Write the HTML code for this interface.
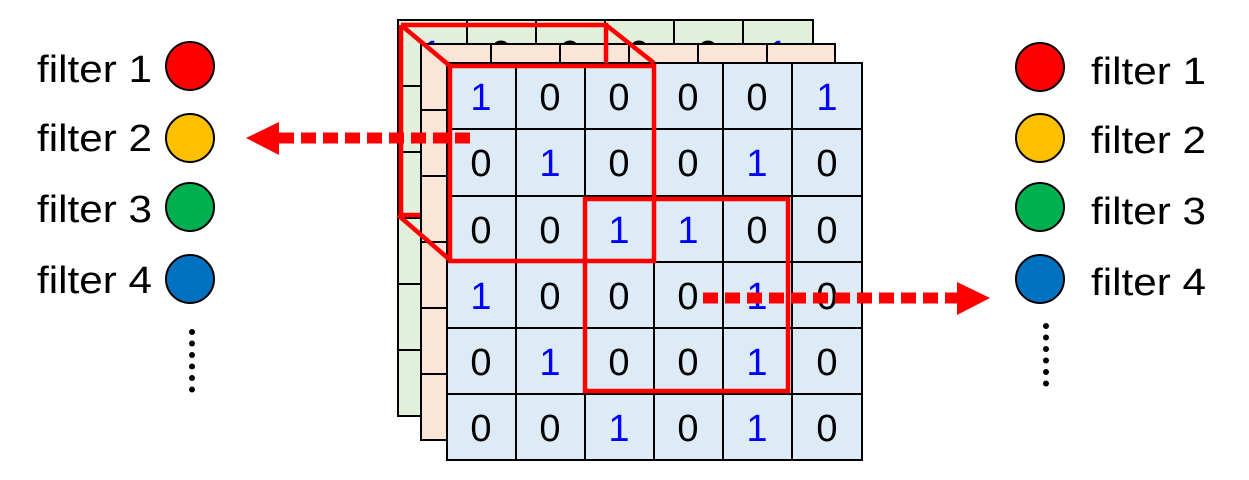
<!DOCTYPE html>
<html><head><meta charset="utf-8"><style>
html,body{margin:0;padding:0;background:#fff;}
svg{display:block;}
text{font-family:"Liberation Sans",sans-serif;}
</style></head><body>
<svg width="1249" height="480" viewBox="0 0 1249 480" xmlns="http://www.w3.org/2000/svg">
<!-- green grid -->
<g stroke="#000" stroke-width="2">
<rect x="398" y="20" width="415" height="396" fill="#e2efda"/>
<path d="M467 20V416M536 20V416M605 20V416M674 20V416M743 20V416M398 86H813M398 152H813M398 218H813M398 284H813M398 350H813" fill="none"/>
</g>
<g font-size="38" text-anchor="middle">
<text x="432" y="67" fill="#0000ff">1</text><text x="501" y="67">0</text><text x="570" y="67">0</text><text x="639" y="67">0</text><text x="708" y="67">0</text><text x="778" y="67" fill="#0000ff">1</text>
</g>
<!-- peach grid -->
<g stroke="#000" stroke-width="2">
<rect x="421" y="44" width="414" height="396" fill="#fbe5d6"/>
<path d="M491 44V440M560 44V440M629 44V440M698 44V440M767 44V440M421 110H835M421 176H835M421 242H835M421 308H835M421 374H835" fill="none"/>
</g>
<g font-size="38" text-anchor="middle">
<text x="456" y="91" fill="#0000ff">1</text><text x="525" y="91">0</text><text x="594" y="91">0</text><text x="663" y="91">0</text><text x="732" y="91">0</text><text x="801" y="91" fill="#0000ff">1</text>
<text x="456" y="223">0</text><text x="456" y="355">0</text><text x="456" y="421">0</text>
</g>
<!-- blue grid -->
<g stroke="#000" stroke-width="2">
<rect x="447" y="63" width="415" height="397" fill="#ddebf7"/>
<path d="M516 63V460M585 63V460M654 63V460M723 63V460M792 63V460M447 129H862M447 196H862M447 262H862M447 328H862M447 394H862" fill="none"/>
</g>
<g font-size="38" text-anchor="middle">
<text x="481" y="110" fill="#0000ff">1</text><text x="550" y="110">0</text><text x="619" y="110">0</text><text x="688" y="110">0</text><text x="757" y="110">0</text><text x="827" y="110" fill="#0000ff">1</text>
<text x="481" y="176">0</text><text x="550" y="176" fill="#0000ff">1</text><text x="619" y="176">0</text><text x="688" y="176">0</text><text x="757" y="176" fill="#0000ff">1</text><text x="827" y="176">0</text>
<text x="481" y="243">0</text><text x="550" y="243">0</text><text x="619" y="243" fill="#0000ff">1</text><text x="688" y="243" fill="#0000ff">1</text><text x="757" y="243">0</text><text x="827" y="243">0</text>
<text x="481" y="309" fill="#0000ff">1</text><text x="550" y="309">0</text><text x="619" y="309">0</text><text x="688" y="309">0</text><text x="757" y="309" fill="#0000ff">1</text><text x="827" y="309">0</text>
<text x="481" y="375">0</text><text x="550" y="375" fill="#0000ff">1</text><text x="619" y="375">0</text><text x="688" y="375">0</text><text x="757" y="375" fill="#0000ff">1</text><text x="827" y="375">0</text>
<text x="481" y="441">0</text><text x="550" y="441">0</text><text x="619" y="441" fill="#0000ff">1</text><text x="688" y="441">0</text><text x="757" y="441" fill="#0000ff">1</text><text x="827" y="441">0</text>
</g>
<!-- red cube -->
<g stroke="#ff0000" stroke-width="4.5" fill="none">
<path d="M401 25H606V63"/>
<path d="M401 25V215H420"/>
<path d="M401 25L450 66M606 25L654 63M398 215L450 260"/>
<rect x="450" y="66" width="204" height="195"/>
<rect x="585" y="199" width="203" height="192"/>
</g>
<!-- arrows -->
<line x1="470" y1="138" x2="279" y2="138" stroke="#ff0000" stroke-width="11" stroke-dasharray="15 7"/>
<polygon points="246,138 279,122 279,155" fill="#ff0000"/>
<line x1="703" y1="298" x2="957" y2="298" stroke="#ff0000" stroke-width="11" stroke-dasharray="15 7"/>
<polygon points="990,298 957,282 957,315" fill="#ff0000"/>
<!-- left legend -->
<g font-size="38">
<text x="37" y="82" textLength="115" lengthAdjust="spacingAndGlyphs">filter 1</text>
<text x="37" y="151" textLength="115" lengthAdjust="spacingAndGlyphs">filter 2</text>
<text x="37" y="222" textLength="115" lengthAdjust="spacingAndGlyphs">filter 3</text>
<text x="37" y="293" textLength="115" lengthAdjust="spacingAndGlyphs">filter 4</text>
<text x="1091" y="84" textLength="115" lengthAdjust="spacingAndGlyphs">filter 1</text>
<text x="1091" y="153" textLength="115" lengthAdjust="spacingAndGlyphs">filter 2</text>
<text x="1091" y="224" textLength="115" lengthAdjust="spacingAndGlyphs">filter 3</text>
<text x="1091" y="295" textLength="115" lengthAdjust="spacingAndGlyphs">filter 4</text>
</g>
<g stroke="#000" stroke-width="2">
<circle cx="190" cy="66" r="24" fill="#ff0000"/>
<circle cx="190" cy="138" r="24" fill="#ffc000"/>
<circle cx="190" cy="207" r="24" fill="#00b050"/>
<circle cx="190" cy="279" r="24" fill="#0070c0"/>
<circle cx="1040" cy="67" r="24" fill="#ff0000"/>
<circle cx="1040" cy="138" r="24" fill="#ffc000"/>
<circle cx="1040" cy="207" r="24" fill="#00b050"/>
<circle cx="1040" cy="279" r="24" fill="#0070c0"/>
</g>
<g fill="#000">
<circle cx="192" cy="332" r="3"/><circle cx="192" cy="343.5" r="3"/><circle cx="192" cy="355" r="3"/><circle cx="192" cy="366.5" r="3"/><circle cx="192" cy="378" r="3"/><circle cx="192" cy="389.5" r="3"/>
<circle cx="1046" cy="326" r="3"/><circle cx="1046" cy="337.5" r="3"/><circle cx="1046" cy="349" r="3"/><circle cx="1046" cy="360.5" r="3"/><circle cx="1046" cy="372" r="3"/><circle cx="1046" cy="383.5" r="3"/>
</g>
</svg>
</body></html>
